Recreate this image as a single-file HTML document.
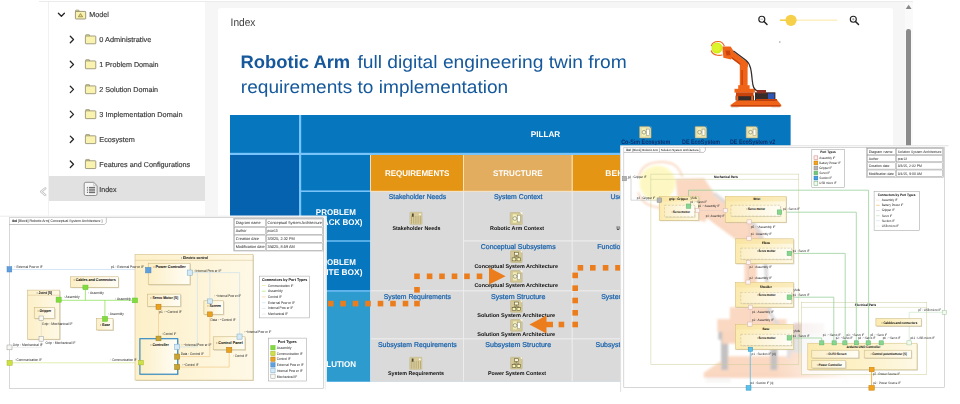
<!DOCTYPE html>
<html lang="en">
<head>
<meta charset="utf-8">
<title>Index - Robotic Arm</title>
<style>
html,body{margin:0;padding:0;background:#fff;}
body{width:960px;height:404px;overflow:hidden;font-family:"Liberation Sans", sans-serif;}
#app{position:relative;width:960px;height:404px;overflow:hidden;background:#fff;}
.topline{position:absolute;left:38.5px;top:1px;width:874.5px;height:0.9px;background:#ebebeb;}
.sidebar{position:absolute;left:48.2px;top:2px;width:156.8px;height:214px;background:#fff;border-left:1.2px solid #f1f1f1;box-sizing:border-box;}
.sidebar .sel{position:absolute;left:-0.6px;top:174.4px;width:156.2px;height:24.7px;background:#e1e1e1;}
.content{position:absolute;left:205px;top:2px;width:700px;height:402px;background:#f6f6f6;}
.card{position:absolute;left:13px;top:6px;width:674.5px;height:400px;background:#fff;border-radius:2.5px;}
.scroll{position:absolute;left:905px;top:2px;width:7.5px;height:402px;background:#fafafa;}
.scroll .up{position:absolute;left:0.8px;top:2.8px;width:0;height:0;border-left:2.9px solid transparent;border-right:2.9px solid transparent;border-bottom:4.1px solid #8a8a8a;}
.scroll .thumb{position:absolute;left:1.3px;top:26.9px;width:4.7px;height:180px;border-radius:2.4px;background:#8b8b8b;}
svg.art{position:absolute;left:0;top:0;width:960px;height:404px;font-family:"Liberation Sans", sans-serif;opacity:0.999;}
svg.art text{white-space:pre;text-rendering:geometricPrecision;}
</style>
</head>
<body>
<div id="app">
<div class="topline"></div>
<nav class="sidebar"><div class="sel"></div></nav>
<main class="content"><section class="card"></section></main>
<div class="scroll"><div class="thumb"></div></div>
<svg class="art" viewBox="0 0 960 404" width="960" height="404">
<defs>
<linearGradient id="gy" x1="0" y1="0" x2="1" y2="0"><stop offset="0" stop-color="#fceaae"/><stop offset="0.55" stop-color="#fdf2cc"/><stop offset="1" stop-color="#fef9e6"/></linearGradient>
<linearGradient id="gl" x1="0" y1="0" x2="1" y2="0"><stop offset="0" stop-color="#fdf0c8"/><stop offset="1" stop-color="#fef8e6"/></linearGradient>
<linearGradient id="gw" x1="0" y1="0" x2="1" y2="0"><stop offset="0" stop-color="#fcefc6"/><stop offset="1" stop-color="#fffdf6"/></linearGradient>
<linearGradient id="wf" gradientUnits="userSpaceOnUse" x1="775" y1="0" x2="850" y2="0"><stop offset="0" stop-color="#fff"/><stop offset="1" stop-color="#1a1a1a"/></linearGradient>
<mask id="wfade" maskUnits="userSpaceOnUse" x="620" y="145" width="340" height="260"><rect x="620" y="145" width="340" height="260" fill="url(#wf)"/></mask>
<filter id="wblur" x="-5%" y="-5%" width="110%" height="110%"><feGaussianBlur stdDeviation="1.1"/></filter>
<g id="arm">
<rect x="731.00" y="106.20" width="7.50" height="1.70" fill="#e9e3df"/>
<rect x="771.50" y="106.20" width="8.50" height="1.70" fill="#e9e3df"/>
<polygon points="737.60,100.00 777.20,100.00 781.30,105.00 781.30,106.50 730.50,106.50 730.50,105.00" fill="#f0641a" />
<rect x="731.50" y="105.00" width="48.80" height="1.50" fill="#c9430c"/>
<rect x="755.00" y="92.30" width="20.40" height="8.30" fill="#362c2a"/>
<rect x="757.00" y="90.00" width="9.00" height="3.40" fill="#8f2e22"/>
<rect x="768.00" y="93.40" width="6.40" height="6.60" fill="#2f55b5"/>
<rect x="756.00" y="99.00" width="21.00" height="1.80" fill="#c9430c"/>
<rect x="735.60" y="95.60" width="18.40" height="4.80" fill="#362c2a"/>
<rect x="736.20" y="95.60" width="2.00" height="4.80" fill="#f0641a"/>
<rect x="751.20" y="95.60" width="2.00" height="4.80" fill="#f0641a"/>
<rect x="734.50" y="88.80" width="20.40" height="3.80" fill="#f0641a"/>
<rect x="736.00" y="92.40" width="17.50" height="3.80" fill="#c9430c"/>
<rect x="738.20" y="85.20" width="11.40" height="4.00" fill="#f0641a"/>
<rect x="739.80" y="64.00" width="7.80" height="22.00" fill="#f0641a"/>
<rect x="741.40" y="70.00" width="1.40" height="15.00" fill="#c9430c"/>
<polygon points="731.90,50.40 746.50,61.40 742.60,66.80 728.00,55.70" fill="#f0641a" />
<polygon points="729.20,55.00 743.40,65.60 742.60,66.80 728.00,55.70" fill="#c9430c" />
<circle cx="744.20" cy="64.40" r="3.90" fill="#f0641a" />
<polygon points="722.20,46.60 730.60,46.40 733.80,51.20 731.00,59.60 723.40,57.80" fill="#f0641a" />
<polygon points="725.40,50.60 729.80,50.40 730.60,55.00 726.60,55.60" fill="#c9430c" />
<path d="M711.5 45.6 C 712.4 42.4, 715.4 41.4, 718.4 41.5 S 723.0 42.6, 724.2 45.8" fill="none" stroke="#f0641a" stroke-width="1.15" stroke-linecap="round"/>
<path d="M711.3 50.8 C 712.2 53.6, 714.6 54.9, 717.2 55.2 S 720.6 55.5, 722.0 55.0" fill="none" stroke="#f0641a" stroke-width="1.15" stroke-linecap="round"/>
<circle cx="717.00" cy="48.00" r="5.50" fill="#d4ee1c" />
<circle cx="716.60" cy="47.60" r="3.80" fill="#def52e" />
<path d="M733.5 51.0 L 745.6 60.0 C 751 64, 751.4 72, 752.2 80 S 754 88.5, 757 91" fill="none" stroke="#362c2a" stroke-width="1.25"/>
</g>
<g id="armw">
<rect x="731.00" y="106.20" width="7.50" height="1.70" fill="#e9e3df"/>
<rect x="771.50" y="106.20" width="8.50" height="1.70" fill="#e9e3df"/>
<polygon points="737.60,100.00 777.20,100.00 781.30,105.00 781.30,106.50 730.50,106.50 730.50,105.00" fill="#f08238" />
<rect x="731.50" y="105.00" width="48.80" height="1.50" fill="#ec7a32"/>
<rect x="755.00" y="92.30" width="20.40" height="8.30" fill="#8a8282"/>
<rect x="757.00" y="90.00" width="9.00" height="3.40" fill="#8f2e22"/>
<rect x="768.00" y="93.40" width="6.40" height="6.60" fill="#2f55b5"/>
<rect x="756.00" y="99.00" width="21.00" height="1.80" fill="#ec7a32"/>
<rect x="735.60" y="94.40" width="2.10" height="9.80" fill="#3a3434"/>
<rect x="750.10" y="94.40" width="2.10" height="9.80" fill="#3a3434"/>
<rect x="734.80" y="92.40" width="17.40" height="2.60" fill="#3a3434"/>
<rect x="734.50" y="88.80" width="20.40" height="3.80" fill="#f08238"/>
<rect x="736.00" y="92.40" width="17.50" height="3.80" fill="#ec7a32"/>
<rect x="738.20" y="85.20" width="11.40" height="4.00" fill="#f08238"/>
<rect x="742.50" y="64.00" width="3.60" height="22.00" fill="#f08238"/>
<polygon points="731.90,50.40 746.50,61.40 742.60,66.80 728.00,55.70" fill="#f08238" />
<polygon points="729.20,55.00 743.40,65.60 742.60,66.80 728.00,55.70" fill="#ec7a32" />
<circle cx="744.20" cy="64.40" r="3.90" fill="#f08238" />
<polygon points="722.20,46.60 730.60,46.40 733.80,51.20 731.00,59.60 723.40,57.80" fill="#f08238" />
<polygon points="725.40,50.60 729.80,50.40 730.60,55.00 726.60,55.60" fill="#ec7a32" />
<path d="M711.5 45.6 C 712.4 42.4, 715.4 41.4, 718.4 41.5 S 723.0 42.6, 724.2 45.8" fill="none" stroke="#f08238" stroke-width="0.55" stroke-linecap="round"/>
<path d="M711.3 50.8 C 712.2 53.6, 714.6 54.9, 717.2 55.2 S 720.6 55.5, 722.0 55.0" fill="none" stroke="#f08238" stroke-width="0.55" stroke-linecap="round"/>
<circle cx="716.90" cy="47.90" r="5.30" fill="#fbea3c" />
<path d="M733.5 51.0 L 744.6 59.6 C 748.6 62.6, 748.7 72, 749.2 80 S 750.6 88.5, 753 91" fill="none" stroke="#8a8282" stroke-width="1.0"/>
</g>
</defs>
<g id="tree">
<polyline points="58.40,13.30 61.40,16.30 64.40,13.30" fill="none" stroke="#262626" stroke-width="1.3" stroke-linecap="round" stroke-linejoin="round"/>
<rect x="75.60" y="10.10" width="3.40" height="2.00" fill="#f3eba0" stroke="#7d7960" stroke-width="0.6" rx="0.4"/>
<rect x="75.40" y="11.40" width="10.30" height="7.60" fill="#f9f2ae" stroke="#7d7960" stroke-width="0.75" rx="0.6"/>
<polygon points="80.50,13.60 82.60,16.80 78.40,16.80" fill="#f1de80" stroke="#6a6232" stroke-width="0.6" />
<text x="89.30" y="17.07" font-size="7.2" fill="#383838" textLength="19.50" lengthAdjust="spacingAndGlyphs" stroke="#383838" stroke-width="0.16">Model</text>
<polyline points="70.30,36.30 73.50,39.50 70.30,42.70" fill="none" stroke="#262626" stroke-width="1.3" stroke-linecap="round" stroke-linejoin="round"/>
<rect x="85.70" y="34.70" width="3.80" height="2.00" fill="#f3eba0" stroke="#7d7960" stroke-width="0.6" rx="0.4"/>
<rect x="85.40" y="36.00" width="10.40" height="7.80" fill="#faf3b0" stroke="#7d7960" stroke-width="0.7" rx="0.6"/>
<text x="99.30" y="42.02" font-size="7.2" fill="#383838" textLength="52.00" lengthAdjust="spacingAndGlyphs" stroke="#383838" stroke-width="0.16">0 Administrative</text>
<polyline points="70.30,61.25 73.50,64.45 70.30,67.65" fill="none" stroke="#262626" stroke-width="1.3" stroke-linecap="round" stroke-linejoin="round"/>
<rect x="85.70" y="59.65" width="3.80" height="2.00" fill="#f3eba0" stroke="#7d7960" stroke-width="0.6" rx="0.4"/>
<rect x="85.40" y="60.95" width="10.40" height="7.80" fill="#faf3b0" stroke="#7d7960" stroke-width="0.7" rx="0.6"/>
<text x="99.30" y="66.97" font-size="7.2" fill="#383838" textLength="59.30" lengthAdjust="spacingAndGlyphs" stroke="#383838" stroke-width="0.16">1 Problem Domain</text>
<polyline points="70.30,86.20 73.50,89.40 70.30,92.60" fill="none" stroke="#262626" stroke-width="1.3" stroke-linecap="round" stroke-linejoin="round"/>
<rect x="85.70" y="84.60" width="3.80" height="2.00" fill="#f3eba0" stroke="#7d7960" stroke-width="0.6" rx="0.4"/>
<rect x="85.40" y="85.90" width="10.40" height="7.80" fill="#faf3b0" stroke="#7d7960" stroke-width="0.7" rx="0.6"/>
<text x="99.30" y="91.92" font-size="7.2" fill="#383838" textLength="58.80" lengthAdjust="spacingAndGlyphs" stroke="#383838" stroke-width="0.16">2 Solution Domain</text>
<polyline points="70.30,111.15 73.50,114.35 70.30,117.55" fill="none" stroke="#262626" stroke-width="1.3" stroke-linecap="round" stroke-linejoin="round"/>
<rect x="85.70" y="109.55" width="3.80" height="2.00" fill="#f3eba0" stroke="#7d7960" stroke-width="0.6" rx="0.4"/>
<rect x="85.40" y="110.85" width="10.40" height="7.80" fill="#faf3b0" stroke="#7d7960" stroke-width="0.7" rx="0.6"/>
<text x="99.30" y="116.87" font-size="7.2" fill="#383838" textLength="83.20" lengthAdjust="spacingAndGlyphs" stroke="#383838" stroke-width="0.16">3 Implementation Domain</text>
<polyline points="70.30,136.10 73.50,139.30 70.30,142.50" fill="none" stroke="#262626" stroke-width="1.3" stroke-linecap="round" stroke-linejoin="round"/>
<rect x="85.70" y="134.50" width="3.80" height="2.00" fill="#f3eba0" stroke="#7d7960" stroke-width="0.6" rx="0.4"/>
<rect x="85.40" y="135.80" width="10.40" height="7.80" fill="#faf3b0" stroke="#7d7960" stroke-width="0.7" rx="0.6"/>
<text x="99.30" y="141.82" font-size="7.2" fill="#383838" textLength="35.60" lengthAdjust="spacingAndGlyphs" stroke="#383838" stroke-width="0.16">Ecosystem</text>
<polyline points="70.30,161.05 73.50,164.25 70.30,167.45" fill="none" stroke="#262626" stroke-width="1.3" stroke-linecap="round" stroke-linejoin="round"/>
<rect x="85.70" y="159.45" width="3.80" height="2.00" fill="#f3eba0" stroke="#7d7960" stroke-width="0.6" rx="0.4"/>
<rect x="85.40" y="160.75" width="10.40" height="7.80" fill="#faf3b0" stroke="#7d7960" stroke-width="0.7" rx="0.6"/>
<text x="99.30" y="166.77" font-size="7.2" fill="#383838" textLength="90.80" lengthAdjust="spacingAndGlyphs" stroke="#383838" stroke-width="0.16">Features and Configurations</text>
<path d="M85.80 182.30 H93.70 L97.10 185.70 V193.90 Q97.10 195.50 95.50 195.50 H85.80 Q84.20 195.50 84.20 193.90 V183.90 Q84.20 182.30 85.80 182.30 Z" fill="#f6f6f6" stroke="#7d7d7d" stroke-width="0.85"/>
<polyline points="93.70,182.50 93.70,185.70 96.90,185.70" fill="none" stroke="#9a9a9a" stroke-width="0.5" />
<rect x="86.90" y="186.90" width="1.00" height="1.00" fill="#6a6a6a"/>
<rect x="88.90" y="186.90" width="6.20" height="1.15" fill="#6e6e6e"/>
<rect x="86.90" y="188.60" width="1.00" height="1.00" fill="#6a6a6a"/>
<rect x="88.90" y="188.60" width="6.20" height="1.15" fill="#6e6e6e"/>
<rect x="86.90" y="190.30" width="1.00" height="1.00" fill="#6a6a6a"/>
<rect x="88.90" y="190.30" width="6.20" height="1.15" fill="#6e6e6e"/>
<rect x="86.90" y="192.00" width="1.00" height="1.00" fill="#6a6a6a"/>
<rect x="88.90" y="192.00" width="6.20" height="1.15" fill="#6e6e6e"/>
<text x="99.30" y="191.52" font-size="7.2" fill="#383838" textLength="17.30" lengthAdjust="spacingAndGlyphs" stroke="#383838" stroke-width="0.16">Index</text>
<polyline points="45.30,188.30 41.20,191.70 45.30,195.10" fill="none" stroke="#c2c2c2" stroke-width="2.3" stroke-linecap="round" stroke-linejoin="round"/>
<polyline points="45.30,188.30 41.20,191.70 45.30,195.10" fill="none" stroke="#ffffff" stroke-width="0.9" stroke-linecap="round" stroke-linejoin="round"/>
</g>
<g id="card-head">
<text x="230.60" y="25.85" font-size="11" fill="#3c3c3c" textLength="24.80" lengthAdjust="spacingAndGlyphs">Index</text>
<circle cx="761.80" cy="19.20" r="3.00" fill="#fff" stroke="#222" stroke-width="1.15" />
<polyline points="764.00,21.40 767.00,24.40" fill="none" stroke="#222" stroke-width="1.45" stroke-linecap="round"/>
<polyline points="760.50,19.20 763.10,19.20" fill="none" stroke="#666" stroke-width="0.5" />
<circle cx="853.30" cy="19.20" r="3.00" fill="#fff" stroke="#222" stroke-width="1.15" />
<polyline points="855.50,21.40 858.50,24.40" fill="none" stroke="#222" stroke-width="1.45" stroke-linecap="round"/>
<polyline points="852.00,19.20 854.60,19.20" fill="none" stroke="#666" stroke-width="0.5" />
<polyline points="853.30,17.90 853.30,20.50" fill="none" stroke="#666" stroke-width="0.5" />
<rect x="779.70" y="19.45" width="57.90" height="1.50" fill="#fdf0c2" rx="0.7"/>
<rect x="779.70" y="19.45" width="11.30" height="1.50" fill="#f6d049" rx="0.7"/>
<circle cx="791.00" cy="20.30" r="5.60" fill="#f6d049" />
<circle cx="779.80" cy="42.00" r="0.75" fill="#8a93a0" />
<polygon points="905.70,8.90 908.65,4.70 911.60,8.90" fill="#888888" />
<text x="240.60" y="67.60" font-size="18" fill="#15589b" font-weight="700" textLength="109.60" lengthAdjust="spacingAndGlyphs">Robotic Arm</text>
<text x="357.40" y="67.60" font-size="18" fill="#15589b" textLength="269.40" lengthAdjust="spacingAndGlyphs">full digital engineering twin from</text>
<text x="240.80" y="93.10" font-size="18" fill="#15589b" textLength="267.40" lengthAdjust="spacingAndGlyphs">requirements to implementation</text>
</g>
<use href="#arm"/>
<g id="pillar-table">
<rect x="230.00" y="115.00" width="560.50" height="266.60" fill="#78c4fa"/>
<rect x="230.00" y="115.00" width="69.00" height="37.80" fill="#0676be"/>
<rect x="301.20" y="115.00" width="489.30" height="37.80" fill="#0676be"/>
<rect x="230.00" y="155.00" width="69.00" height="226.60" fill="#0462ae"/>
<rect x="301.20" y="155.00" width="69.10" height="35.40" fill="#0676be"/>
<rect x="301.20" y="192.00" width="69.10" height="48.30" fill="#0676be"/>
<rect x="301.20" y="241.70" width="69.10" height="48.50" fill="#0676be"/>
<rect x="301.20" y="291.60" width="69.10" height="90.00" fill="#2e9bcf"/>
<rect x="370.30" y="155.00" width="319.70" height="226.60" fill="#ececec"/>
<rect x="370.30" y="155.00" width="319.70" height="36.80" fill="#fbe3b8"/>
<rect x="371.00" y="155.00" width="92.00" height="35.80" fill="#e49514"/>
<rect x="464.00" y="155.00" width="107.60" height="35.80" fill="#e2ad5e"/>
<rect x="572.80" y="155.00" width="117.20" height="35.80" fill="#e49514"/>
<rect x="371.00" y="191.80" width="92.00" height="98.40" fill="#dadada"/>
<rect x="371.00" y="291.40" width="92.00" height="46.80" fill="#dadada"/>
<rect x="371.00" y="339.40" width="92.00" height="42.20" fill="#dadada"/>
<rect x="464.00" y="191.80" width="107.60" height="48.50" fill="#dadada"/>
<rect x="464.00" y="241.50" width="107.60" height="48.70" fill="#dadada"/>
<rect x="464.00" y="291.40" width="107.60" height="46.80" fill="#dadada"/>
<rect x="464.00" y="339.40" width="107.60" height="42.20" fill="#dadada"/>
<rect x="572.80" y="191.80" width="117.20" height="48.50" fill="#dadada"/>
<rect x="572.80" y="241.50" width="117.20" height="48.70" fill="#dadada"/>
<rect x="572.80" y="291.40" width="117.20" height="46.80" fill="#dadada"/>
<rect x="572.80" y="339.40" width="117.20" height="42.20" fill="#dadada"/>
<text x="545.50" y="137.17" font-size="8.2" fill="#ffffff" font-weight="700" text-anchor="middle" textLength="29.50" lengthAdjust="spacingAndGlyphs">PILLAR</text>
<text x="417.20" y="175.67" font-size="8.2" fill="#ffffff" font-weight="700" text-anchor="middle" textLength="64.50" lengthAdjust="spacingAndGlyphs">REQUIREMENTS</text>
<text x="517.80" y="175.67" font-size="8.2" fill="#ffffff" font-weight="700" text-anchor="middle" textLength="49.50" lengthAdjust="spacingAndGlyphs">STRUCTURE</text>
<text x="627.50" y="175.67" font-size="8.2" fill="#ffffff" font-weight="700" text-anchor="middle" textLength="44.50" lengthAdjust="spacingAndGlyphs">BEHAVIOR</text>
<text x="335.80" y="214.84" font-size="8.4" fill="#ffffff" font-weight="700" text-anchor="middle" textLength="40.00" lengthAdjust="spacingAndGlyphs">PROBLEM</text>
<text x="336.00" y="224.84" font-size="8.4" fill="#ffffff" font-weight="700" text-anchor="middle" textLength="53.00" lengthAdjust="spacingAndGlyphs">(BLACK BOX)</text>
<text x="335.80" y="264.54" font-size="8.4" fill="#ffffff" font-weight="700" text-anchor="middle" textLength="40.00" lengthAdjust="spacingAndGlyphs">PROBLEM</text>
<text x="336.00" y="274.54" font-size="8.4" fill="#ffffff" font-weight="700" text-anchor="middle" textLength="53.00" lengthAdjust="spacingAndGlyphs">(WHITE BOX)</text>
<text x="335.40" y="366.64" font-size="8.4" fill="#ffffff" font-weight="700" text-anchor="middle" textLength="41.30" lengthAdjust="spacingAndGlyphs">SOLUTION</text>
<rect x="639.50" y="126.40" width="11.60" height="11.60" fill="#e6dfac" stroke="#a89f70" stroke-width="0.5" rx="0.6"/>
<rect x="642.01" y="128.14" width="3.67" height="8.12" fill="#f3f0b6"/>
<rect x="646.46" y="129.11" width="2.90" height="6.38" fill="#fefef8" stroke="#8f8b70" stroke-width="0.45"/>
<circle cx="643.95" cy="132.20" r="1.84" fill="#f8f6d0" stroke="#77776a" stroke-width="0.6" />
<polyline points="645.69,132.20 646.65,132.20" fill="none" stroke="#8a8a80" stroke-width="0.5" />
<polygon points="648.78,126.10 651.40,126.10 651.40,128.72" fill="#2f8ccc" />
<rect x="695.10" y="126.40" width="11.60" height="11.60" fill="#e6dfac" stroke="#a89f70" stroke-width="0.5" rx="0.6"/>
<rect x="697.61" y="128.14" width="3.67" height="8.12" fill="#f3f0b6"/>
<rect x="702.06" y="129.11" width="2.90" height="6.38" fill="#fefef8" stroke="#8f8b70" stroke-width="0.45"/>
<circle cx="699.55" cy="132.20" r="1.84" fill="#f8f6d0" stroke="#77776a" stroke-width="0.6" />
<polyline points="701.29,132.20 702.25,132.20" fill="none" stroke="#8a8a80" stroke-width="0.5" />
<polygon points="704.38,126.10 707.00,126.10 707.00,128.72" fill="#2f8ccc" />
<rect x="746.10" y="126.40" width="11.60" height="11.60" fill="#e6dfac" stroke="#a89f70" stroke-width="0.5" rx="0.6"/>
<rect x="748.61" y="128.14" width="3.67" height="8.12" fill="#f3f0b6"/>
<rect x="753.06" y="129.11" width="2.90" height="6.38" fill="#fefef8" stroke="#8f8b70" stroke-width="0.45"/>
<circle cx="750.55" cy="132.20" r="1.84" fill="#f8f6d0" stroke="#77776a" stroke-width="0.6" />
<polyline points="752.29,132.20 753.25,132.20" fill="none" stroke="#8a8a80" stroke-width="0.5" />
<polygon points="755.38,126.10 758.00,126.10 758.00,128.72" fill="#2f8ccc" />
<text x="621.20" y="143.84" font-size="6.4" fill="#0b2f6e" font-weight="700" textLength="49.00" lengthAdjust="spacingAndGlyphs">Co-Sim Ecosystem</text>
<text x="682.00" y="143.84" font-size="6.4" fill="#0b2f6e" font-weight="700" textLength="38.00" lengthAdjust="spacingAndGlyphs">DE EcoSystem</text>
<text x="730.00" y="143.84" font-size="6.4" fill="#0b2f6e" font-weight="700" textLength="45.20" lengthAdjust="spacingAndGlyphs">DE EcoSystem v2</text>
<text x="417.50" y="199.45" font-size="7.0" fill="#1560ab" text-anchor="middle" textLength="57.50" lengthAdjust="spacingAndGlyphs" stroke="#1560ab" stroke-width="0.22">Stakeholder Needs</text>
<text x="518.20" y="199.45" font-size="7.0" fill="#1560ab" text-anchor="middle" textLength="48.50" lengthAdjust="spacingAndGlyphs" stroke="#1560ab" stroke-width="0.22">System Context</text>
<text x="627.50" y="199.45" font-size="7.0" fill="#1560ab" text-anchor="middle" textLength="34.00" lengthAdjust="spacingAndGlyphs" stroke="#1560ab" stroke-width="0.22">Use Cases</text>
<text x="518.20" y="249.25" font-size="7.0" fill="#1560ab" text-anchor="middle" textLength="74.80" lengthAdjust="spacingAndGlyphs" stroke="#1560ab" stroke-width="0.22">Conceptual Subsystems</text>
<text x="627.50" y="249.25" font-size="7.0" fill="#1560ab" text-anchor="middle" textLength="60.50" lengthAdjust="spacingAndGlyphs" stroke="#1560ab" stroke-width="0.22">Functional Analysis</text>
<text x="417.30" y="299.25" font-size="7.0" fill="#1560ab" text-anchor="middle" textLength="67.00" lengthAdjust="spacingAndGlyphs" stroke="#1560ab" stroke-width="0.22">System Requirements</text>
<text x="518.20" y="299.25" font-size="7.0" fill="#1560ab" text-anchor="middle" textLength="54.50" lengthAdjust="spacingAndGlyphs" stroke="#1560ab" stroke-width="0.22">System Structure</text>
<text x="627.50" y="299.25" font-size="7.0" fill="#1560ab" text-anchor="middle" textLength="52.60" lengthAdjust="spacingAndGlyphs" stroke="#1560ab" stroke-width="0.22">System Behavior</text>
<text x="417.40" y="347.25" font-size="7.0" fill="#1560ab" text-anchor="middle" textLength="78.80" lengthAdjust="spacingAndGlyphs" stroke="#1560ab" stroke-width="0.22">Subsystem Requirements</text>
<text x="518.20" y="347.25" font-size="7.0" fill="#1560ab" text-anchor="middle" textLength="66.00" lengthAdjust="spacingAndGlyphs" stroke="#1560ab" stroke-width="0.22">Subsystem Structure</text>
<text x="627.50" y="347.25" font-size="7.0" fill="#1560ab" text-anchor="middle" textLength="64.00" lengthAdjust="spacingAndGlyphs" stroke="#1560ab" stroke-width="0.22">Subsystem Behavior</text>
<rect x="410.00" y="212.30" width="12.00" height="12.00" fill="#e1d5a6" stroke="#b5a877" stroke-width="0.5" rx="0.6"/>
<rect x="410.50" y="212.80" width="11.00" height="2.90" fill="#d8ca96"/>
<rect x="411.00" y="215.90" width="0.85" height="7.80" fill="#b4a46f"/>
<rect x="412.86" y="215.90" width="0.85" height="7.80" fill="#b4a46f"/>
<rect x="414.72" y="215.90" width="0.85" height="7.80" fill="#b4a46f"/>
<rect x="416.58" y="215.90" width="0.85" height="7.80" fill="#b4a46f"/>
<rect x="418.44" y="215.90" width="0.85" height="7.80" fill="#b4a46f"/>
<rect x="420.30" y="215.90" width="0.85" height="7.80" fill="#b4a46f"/>
<rect x="411.90" y="213.50" width="1.80" height="3.20" fill="#4f4a38"/>
<circle cx="420.00" cy="214.30" r="0.90" fill="#ffffff" />
<text x="416.40" y="230.09" font-size="5.4" fill="#111" font-weight="700" text-anchor="middle" textLength="48.00" lengthAdjust="spacingAndGlyphs">Stakeholder Needs</text>
<rect x="510.20" y="212.50" width="12.00" height="12.00" fill="#d3c895" stroke="#b9ad7c" stroke-width="0.5" rx="0.6"/>
<rect x="512.80" y="214.30" width="3.80" height="8.40" fill="#f3f0b6"/>
<rect x="517.40" y="215.30" width="3.00" height="6.60" fill="#fefef8" stroke="#8f8b70" stroke-width="0.45"/>
<circle cx="514.80" cy="218.50" r="1.90" fill="#f8f6d0" stroke="#77776a" stroke-width="0.6" />
<polyline points="516.60,218.50 517.60,218.50" fill="none" stroke="#8a8a80" stroke-width="0.5" />
<polygon points="519.80,212.20 522.50,212.20 522.50,214.90" fill="#ffffff" />
<text x="517.00" y="230.09" font-size="5.4" fill="#111" font-weight="700" text-anchor="middle" textLength="54.00" lengthAdjust="spacingAndGlyphs">Robotic Arm Context</text>
<rect x="510.60" y="250.80" width="11.60" height="11.60" fill="#d3c895" stroke="#b9ad7c" stroke-width="0.5" rx="0.6"/>
<rect x="514.47" y="252.25" width="3.87" height="2.90" fill="#fbf9dc" stroke="#5f5936" stroke-width="0.6"/>
<rect x="512.15" y="257.86" width="3.67" height="3.00" fill="#f7f3b4" stroke="#5f5936" stroke-width="0.6"/>
<rect x="516.98" y="257.86" width="3.67" height="3.00" fill="#f7f3b4" stroke="#5f5936" stroke-width="0.6"/>
<polyline points="516.40,255.05 516.40,256.60" fill="none" stroke="#5f5936" stroke-width="0.45" />
<polyline points="514.08,257.95 514.08,256.60 518.72,256.60 518.72,257.95" fill="none" stroke="#5f5936" stroke-width="0.45" />
<polygon points="520.07,250.80 522.20,250.80 522.20,252.93" fill="#ffffff" />
<text x="516.20" y="267.99" font-size="5.4" fill="#111" font-weight="700" text-anchor="middle" textLength="83.50" lengthAdjust="spacingAndGlyphs">Conceptual System Architecture</text>
<rect x="510.60" y="270.60" width="11.60" height="11.60" fill="#d3c895" stroke="#b9ad7c" stroke-width="0.5" rx="0.6"/>
<rect x="513.11" y="272.34" width="3.67" height="8.12" fill="#f3f0b6"/>
<rect x="517.56" y="273.31" width="2.90" height="6.38" fill="#fefef8" stroke="#8f8b70" stroke-width="0.45"/>
<circle cx="515.05" cy="276.40" r="1.84" fill="#f8f6d0" stroke="#77776a" stroke-width="0.6" />
<polyline points="516.79,276.40 517.75,276.40" fill="none" stroke="#8a8a80" stroke-width="0.5" />
<polygon points="519.88,270.30 522.50,270.30 522.50,272.92" fill="#ffffff" />
<text x="516.20" y="287.09" font-size="5.4" fill="#111" font-weight="700" text-anchor="middle" textLength="83.50" lengthAdjust="spacingAndGlyphs">Conceptual System Architecture</text>
<rect x="510.60" y="300.60" width="11.60" height="11.60" fill="#d3c895" stroke="#b9ad7c" stroke-width="0.5" rx="0.6"/>
<rect x="514.47" y="302.05" width="3.87" height="2.90" fill="#fbf9dc" stroke="#5f5936" stroke-width="0.6"/>
<rect x="512.15" y="307.66" width="3.67" height="3.00" fill="#f7f3b4" stroke="#5f5936" stroke-width="0.6"/>
<rect x="516.98" y="307.66" width="3.67" height="3.00" fill="#f7f3b4" stroke="#5f5936" stroke-width="0.6"/>
<polyline points="516.40,304.85 516.40,306.40" fill="none" stroke="#5f5936" stroke-width="0.45" />
<polyline points="514.08,307.75 514.08,306.40 518.72,306.40 518.72,307.75" fill="none" stroke="#5f5936" stroke-width="0.45" />
<polygon points="520.07,300.60 522.20,300.60 522.20,302.73" fill="#ffffff" />
<text x="516.20" y="317.39" font-size="5.4" fill="#111" font-weight="700" text-anchor="middle" textLength="78.00" lengthAdjust="spacingAndGlyphs">Solution System Architecture</text>
<rect x="510.60" y="319.60" width="11.60" height="11.60" fill="#d3c895" stroke="#b9ad7c" stroke-width="0.5" rx="0.6"/>
<rect x="513.11" y="321.34" width="3.67" height="8.12" fill="#f3f0b6"/>
<rect x="517.56" y="322.31" width="2.90" height="6.38" fill="#fefef8" stroke="#8f8b70" stroke-width="0.45"/>
<circle cx="515.05" cy="325.40" r="1.84" fill="#f8f6d0" stroke="#77776a" stroke-width="0.6" />
<polyline points="516.79,325.40 517.75,325.40" fill="none" stroke="#8a8a80" stroke-width="0.5" />
<polygon points="519.88,319.30 522.50,319.30 522.50,321.92" fill="#ffffff" />
<text x="516.20" y="336.49" font-size="5.4" fill="#111" font-weight="700" text-anchor="middle" textLength="78.00" lengthAdjust="spacingAndGlyphs">Solution System Architecture</text>
<rect x="409.80" y="357.30" width="12.00" height="12.00" fill="#e1d5a6" stroke="#b5a877" stroke-width="0.5" rx="0.6"/>
<rect x="410.30" y="357.80" width="11.00" height="2.90" fill="#d8ca96"/>
<rect x="410.80" y="360.90" width="0.85" height="7.80" fill="#b4a46f"/>
<rect x="412.66" y="360.90" width="0.85" height="7.80" fill="#b4a46f"/>
<rect x="414.52" y="360.90" width="0.85" height="7.80" fill="#b4a46f"/>
<rect x="416.38" y="360.90" width="0.85" height="7.80" fill="#b4a46f"/>
<rect x="418.24" y="360.90" width="0.85" height="7.80" fill="#b4a46f"/>
<rect x="420.10" y="360.90" width="0.85" height="7.80" fill="#b4a46f"/>
<rect x="411.70" y="358.50" width="1.80" height="3.20" fill="#4f4a38"/>
<circle cx="419.80" cy="359.30" r="0.90" fill="#ffffff" />
<text x="416.00" y="374.99" font-size="5.4" fill="#111" font-weight="700" text-anchor="middle" textLength="56.00" lengthAdjust="spacingAndGlyphs">System Requirements</text>
<rect x="510.60" y="357.30" width="11.60" height="11.60" fill="#d3c895" stroke="#b9ad7c" stroke-width="0.5" rx="0.6"/>
<rect x="514.47" y="358.75" width="3.87" height="2.90" fill="#fbf9dc" stroke="#5f5936" stroke-width="0.6"/>
<rect x="512.15" y="364.36" width="3.67" height="3.00" fill="#f7f3b4" stroke="#5f5936" stroke-width="0.6"/>
<rect x="516.98" y="364.36" width="3.67" height="3.00" fill="#f7f3b4" stroke="#5f5936" stroke-width="0.6"/>
<polyline points="516.40,361.55 516.40,363.10" fill="none" stroke="#5f5936" stroke-width="0.45" />
<polyline points="514.08,364.45 514.08,363.10 518.72,363.10 518.72,364.45" fill="none" stroke="#5f5936" stroke-width="0.45" />
<polygon points="520.07,357.30 522.20,357.30 522.20,359.43" fill="#ffffff" />
<text x="517.00" y="374.99" font-size="5.4" fill="#111" font-weight="700" text-anchor="middle" textLength="58.00" lengthAdjust="spacingAndGlyphs">Power System Context</text>
<rect x="620.50" y="212.50" width="12.00" height="12.00" fill="#d3c895" stroke="#b9ad7c" stroke-width="0.5" rx="0.6"/>
<rect x="623.10" y="214.30" width="3.80" height="8.40" fill="#f3f0b6"/>
<rect x="627.70" y="215.30" width="3.00" height="6.60" fill="#fefef8" stroke="#8f8b70" stroke-width="0.45"/>
<circle cx="625.10" cy="218.50" r="1.90" fill="#f8f6d0" stroke="#77776a" stroke-width="0.6" />
<polyline points="626.90,218.50 627.90,218.50" fill="none" stroke="#8a8a80" stroke-width="0.5" />
<polygon points="630.10,212.20 632.80,212.20 632.80,214.90" fill="#ffffff" />
<text x="627.60" y="230.09" font-size="5.4" fill="#111" font-weight="700" text-anchor="middle" textLength="22.00" lengthAdjust="spacingAndGlyphs">Use Cases</text>
<rect x="328.00" y="300.80" width="5.60" height="5.60" fill="#ec7d1c"/>
<rect x="340.30" y="300.80" width="5.60" height="5.60" fill="#ec7d1c"/>
<rect x="352.70" y="300.80" width="5.60" height="5.60" fill="#ec7d1c"/>
<rect x="365.20" y="300.80" width="5.60" height="5.60" fill="#ec7d1c"/>
<rect x="377.70" y="300.80" width="5.60" height="5.60" fill="#ec7d1c"/>
<rect x="390.20" y="300.80" width="5.60" height="5.60" fill="#ec7d1c"/>
<rect x="402.70" y="300.80" width="5.60" height="5.60" fill="#ec7d1c"/>
<rect x="414.20" y="273.50" width="5.60" height="5.60" fill="#ec7d1c"/>
<rect x="414.20" y="287.00" width="5.60" height="5.60" fill="#ec7d1c"/>
<rect x="414.20" y="300.80" width="5.60" height="5.60" fill="#ec7d1c"/>
<rect x="426.80" y="273.50" width="5.60" height="5.60" fill="#ec7d1c"/>
<rect x="439.20" y="273.50" width="5.60" height="5.60" fill="#ec7d1c"/>
<rect x="451.70" y="273.50" width="5.60" height="5.60" fill="#ec7d1c"/>
<rect x="464.20" y="273.50" width="5.60" height="5.60" fill="#ec7d1c"/>
<rect x="476.70" y="273.50" width="5.60" height="5.60" fill="#ec7d1c"/>
<polygon points="489.00,267.60 505.60,276.20 489.00,284.60" fill="#ec7d1c" />
<rect x="577.60" y="265.00" width="5.60" height="5.60" fill="#ec7d1c"/>
<rect x="590.00" y="265.00" width="5.60" height="5.60" fill="#ec7d1c"/>
<rect x="602.80" y="265.00" width="5.60" height="5.60" fill="#ec7d1c"/>
<rect x="615.20" y="265.00" width="5.60" height="5.60" fill="#ec7d1c"/>
<rect x="627.60" y="265.00" width="5.60" height="5.60" fill="#ec7d1c"/>
<rect x="572.40" y="272.60" width="5.60" height="5.60" fill="#ec7d1c"/>
<rect x="572.40" y="285.40" width="5.60" height="5.60" fill="#ec7d1c"/>
<rect x="572.40" y="297.70" width="5.60" height="5.60" fill="#ec7d1c"/>
<rect x="572.40" y="310.00" width="5.60" height="5.60" fill="#ec7d1c"/>
<rect x="572.40" y="321.70" width="5.60" height="5.60" fill="#ec7d1c"/>
<rect x="558.60" y="321.70" width="5.60" height="5.60" fill="#ec7d1c"/>
<polygon points="529.40,324.50 546.50,315.60 546.50,321.70 553.00,321.70 553.00,327.30 546.50,327.30 546.50,333.40" fill="#ec7d1c" />
</g>
<g id="diagram-left">
<rect x="0.00" y="215.60" width="326.80" height="188.40" fill="#ffffff"/>
<polyline points="0.00,216.20 325.20,216.20 325.20,389.60" fill="none" stroke="#dedede" stroke-width="0.6" />
<rect x="9.30" y="217.70" width="314.10" height="170.70" fill="none" stroke="#bcbcbc" stroke-width="0.6"/>
<polyline points="9.30,224.50 104.40,224.50 106.30,222.60 106.30,217.70" fill="none" stroke="#8a8a8a" stroke-width="0.5" />
<text x="11.80" y="222.36" font-size="3.6" fill="#111" font-weight="700" textLength="5.20" lengthAdjust="spacingAndGlyphs">ibd</text>
<text x="18.00" y="222.36" font-size="3.6" fill="#222" textLength="84.40" lengthAdjust="spacingAndGlyphs">[Block] Robotic Arm[ Conceptual System Architecture ]</text>
<rect x="233.80" y="218.20" width="89.80" height="32.80" fill="#ffffff" stroke="#9a9a9a" stroke-width="0.5"/>
<rect x="234.70" y="219.00" width="30.80" height="7.50" fill="#fff" stroke="#8c8c8c" stroke-width="0.45"/>
<rect x="266.70" y="219.00" width="55.90" height="7.50" fill="#fff" stroke="#8c8c8c" stroke-width="0.45"/>
<text x="235.70" y="224.25" font-size="4.0" fill="#222" textLength="24.80" lengthAdjust="spacingAndGlyphs">Diagram name</text>
<text x="267.60" y="224.25" font-size="4.0" fill="#222" textLength="54.40" lengthAdjust="spacingAndGlyphs">Conceptual System Architecture</text>
<rect x="234.70" y="227.30" width="30.80" height="7.10" fill="#fff" stroke="#8c8c8c" stroke-width="0.45"/>
<rect x="266.70" y="227.30" width="55.90" height="7.10" fill="#fff" stroke="#8c8c8c" stroke-width="0.45"/>
<text x="235.70" y="232.35" font-size="4.0" fill="#222" textLength="10.80" lengthAdjust="spacingAndGlyphs">Author</text>
<text x="267.60" y="232.35" font-size="4.0" fill="#222" textLength="10.00" lengthAdjust="spacingAndGlyphs">pcar13</text>
<rect x="234.70" y="235.10" width="30.80" height="7.40" fill="#fff" stroke="#8c8c8c" stroke-width="0.45"/>
<rect x="266.70" y="235.10" width="55.90" height="7.40" fill="#fff" stroke="#8c8c8c" stroke-width="0.45"/>
<text x="235.70" y="240.30" font-size="4.0" fill="#222" textLength="23.10" lengthAdjust="spacingAndGlyphs">Creation date</text>
<text x="267.60" y="240.30" font-size="4.0" fill="#222" textLength="27.20" lengthAdjust="spacingAndGlyphs">3/3/25, 2:32 PM</text>
<rect x="234.70" y="243.10" width="30.80" height="7.20" fill="#fff" stroke="#8c8c8c" stroke-width="0.45"/>
<rect x="266.70" y="243.10" width="55.90" height="7.20" fill="#fff" stroke="#8c8c8c" stroke-width="0.45"/>
<text x="235.70" y="248.20" font-size="4.0" fill="#222" textLength="28.90" lengthAdjust="spacingAndGlyphs">Modification date</text>
<text x="267.60" y="248.20" font-size="4.0" fill="#222" textLength="27.20" lengthAdjust="spacingAndGlyphs">3/4/25, 8:59 AM</text>
<polyline points="11.70,269.50 145.60,269.50" fill="none" stroke="#c3dbf2" stroke-width="0.7" />
<polyline points="12.20,362.80 138.80,362.80" fill="none" stroke="#d6e78f" stroke-width="0.7" />
<rect x="135.90" y="255.20" width="118.00" height="125.80" fill="#cfc8b4" opacity="0.75"/>
<rect x="135.00" y="254.30" width="118.00" height="125.80" fill="url(#gl)" stroke="#c9b47c" stroke-width="0.5"/>
<polyline points="135.00,260.30 253.00,260.30" fill="none" stroke="#c9b47c" stroke-width="0.4" />
<text x="194.50" y="258.87" font-size="3.9" fill="#000" font-weight="700" text-anchor="middle" textLength="27.00" lengthAdjust="spacingAndGlyphs">: Electric control</text>
<polyline points="192.40,272.60 239.60,272.60 239.60,334.00" fill="none" stroke="#c6deef" stroke-width="0.6" />
<polyline points="209.80,272.70 209.80,298.90" fill="none" stroke="#c6deef" stroke-width="0.6" />
<polyline points="197.40,272.60 197.40,346.90 179.70,346.90" fill="none" stroke="#c6deef" stroke-width="0.6" />
<polyline points="158.50,309.40 158.50,336.10" fill="none" stroke="#f2ca88" stroke-width="0.7" />
<polyline points="209.80,316.70 209.80,356.60 179.70,356.60" fill="none" stroke="#f2ca88" stroke-width="0.7" />
<polyline points="229.20,352.40 229.20,367.10 179.70,367.10" fill="none" stroke="#f2ca88" stroke-width="0.7" />
<polyline points="85.40,289.60 85.40,300.30" fill="none" stroke="#92e25e" stroke-width="0.8" />
<polyline points="61.20,300.30 132.40,300.30" fill="none" stroke="#92e25e" stroke-width="0.8" />
<polyline points="104.90,300.30 104.90,316.40" fill="none" stroke="#92e25e" stroke-width="0.8" />
<polyline points="41.30,341.20 41.30,347.40 12.00,347.40" fill="none" stroke="#dcdcdc" stroke-width="0.5" />
<rect x="149.10" y="264.10" width="41.80" height="21.40" fill="#cfc8b4" opacity="0.75"/>
<rect x="148.20" y="263.20" width="41.80" height="21.40" fill="url(#gw)" stroke="#c2ad72" stroke-width="0.5"/>
<text x="153.30" y="268.26" font-size="3.9" fill="#000" font-weight="700" textLength="32.30" lengthAdjust="spacingAndGlyphs">: Power Controller</text>
<rect x="148.20" y="295.00" width="33.40" height="12.20" fill="#cfc8b4" opacity="0.75"/>
<rect x="147.30" y="294.10" width="33.40" height="12.20" fill="url(#gw)" stroke="#c2ad72" stroke-width="0.5"/>
<text x="150.30" y="299.17" font-size="3.9" fill="#000" font-weight="700" textLength="27.80" lengthAdjust="spacingAndGlyphs">: Servo Motor [5]</text>
<rect x="140.80" y="339.60" width="37.80" height="35.50" fill="#cfc8b4" opacity="0.75"/>
<rect x="139.90" y="338.70" width="37.80" height="35.50" fill="url(#gw)" stroke="#2f88c4" stroke-width="1.15"/>
<text x="150.30" y="345.97" font-size="3.9" fill="#000" font-weight="700" textLength="18.50" lengthAdjust="spacingAndGlyphs">: Controller</text>
<rect x="204.80" y="301.70" width="19.50" height="13.60" fill="#cfc8b4" opacity="0.75"/>
<rect x="203.90" y="300.80" width="19.50" height="13.60" fill="url(#gw)" stroke="#c2ad72" stroke-width="0.5"/>
<text x="207.30" y="307.47" font-size="3.9" fill="#000" font-weight="700" textLength="13.70" lengthAdjust="spacingAndGlyphs">: Screen</text>
<rect x="214.10" y="337.70" width="31.80" height="13.00" fill="#cfc8b4" opacity="0.75"/>
<rect x="213.20" y="336.80" width="31.80" height="13.00" fill="url(#gw)" stroke="#c2ad72" stroke-width="0.5"/>
<text x="216.00" y="343.67" font-size="3.9" fill="#000" font-weight="700" textLength="26.70" lengthAdjust="spacingAndGlyphs">: Control Panel</text>
<rect x="71.40" y="277.70" width="47.80" height="10.50" fill="#cfc8b4" opacity="0.75"/>
<rect x="70.50" y="276.80" width="47.80" height="10.50" fill="url(#gw)" stroke="#c2ad72" stroke-width="0.5"/>
<text x="73.60" y="281.26" font-size="3.9" fill="#000" font-weight="700" textLength="42.10" lengthAdjust="spacingAndGlyphs">: Cables and Connectors</text>
<rect x="28.50" y="291.00" width="32.20" height="49.10" fill="#cfc8b4" opacity="0.75"/>
<rect x="27.60" y="290.10" width="32.20" height="49.10" fill="url(#gl)" stroke="#c2ad72" stroke-width="0.5"/>
<polyline points="27.60,295.20 59.80,295.20" fill="none" stroke="#c2ad72" stroke-width="0.4" />
<text x="36.40" y="294.17" font-size="3.9" fill="#000" font-weight="700" textLength="15.70" lengthAdjust="spacingAndGlyphs">: Joint [5]</text>
<polyline points="41.30,320.40 41.30,336.40" fill="none" stroke="#d7d7d0" stroke-width="0.5" />
<rect x="35.10" y="308.60" width="20.50" height="10.70" fill="#cfc8b4" opacity="0.75"/>
<rect x="34.20" y="307.70" width="20.50" height="10.70" fill="url(#gw)" stroke="#c2ad72" stroke-width="0.5"/>
<text x="37.60" y="312.26" font-size="3.9" fill="#000" font-weight="700" textLength="13.70" lengthAdjust="spacingAndGlyphs">: Gripper</text>
<rect x="97.60" y="319.50" width="16.30" height="11.40" fill="#cfc8b4" opacity="0.75"/>
<rect x="96.70" y="318.60" width="16.30" height="11.40" fill="url(#gw)" stroke="#c2ad72" stroke-width="0.5"/>
<text x="100.20" y="325.97" font-size="3.9" fill="#000" font-weight="700" textLength="10.00" lengthAdjust="spacingAndGlyphs">: Base</text>
<rect x="7.00" y="266.70" width="4.80" height="5.30" fill="#5f9fdc" stroke="#4a86c2" stroke-width="0.5"/>
<rect x="145.50" y="267.40" width="5.50" height="5.50" fill="#5f9fdc" stroke="#4a86c2" stroke-width="0.5"/>
<rect x="187.20" y="270.00" width="5.20" height="5.20" fill="#d4e9f6" stroke="#79aacb" stroke-width="0.5"/>
<rect x="82.90" y="285.10" width="5.10" height="4.60" fill="#80dc3c" stroke="#68c030" stroke-width="0.5"/>
<rect x="56.10" y="297.10" width="5.10" height="5.10" fill="#80dc3c" stroke="#68c030" stroke-width="0.5"/>
<rect x="132.40" y="298.00" width="5.10" height="4.80" fill="#80dc3c" stroke="#68c030" stroke-width="0.5"/>
<rect x="102.50" y="316.40" width="5.10" height="4.90" fill="#80dc3c" stroke="#68c030" stroke-width="0.5"/>
<rect x="39.00" y="316.00" width="4.60" height="4.40" fill="#f7f8f2" stroke="#9a9a9a" stroke-width="0.5"/>
<rect x="39.00" y="336.50" width="4.60" height="4.70" fill="#f7f8f2" stroke="#9a9a9a" stroke-width="0.5"/>
<rect x="7.00" y="345.00" width="5.00" height="4.80" fill="#f7f8f2" stroke="#9a9a9a" stroke-width="0.5"/>
<rect x="7.00" y="360.30" width="5.20" height="5.10" fill="#cde044" stroke="#a3b630" stroke-width="0.5"/>
<rect x="138.70" y="360.30" width="4.60" height="4.60" fill="#cde044" stroke="#a3b630" stroke-width="0.5"/>
<rect x="156.00" y="304.20" width="5.00" height="5.20" fill="#e9a11f" stroke="#b57a12" stroke-width="0.5"/>
<rect x="156.00" y="336.10" width="5.00" height="4.70" fill="#c9a430" stroke="#9a7c1c" stroke-width="0.5"/>
<rect x="174.60" y="344.20" width="5.10" height="5.30" fill="#d4e9f6" stroke="#79aacb" stroke-width="0.5"/>
<rect x="174.60" y="354.00" width="5.10" height="5.20" fill="#c9a430" stroke="#9a7c1c" stroke-width="0.5"/>
<rect x="174.60" y="364.40" width="5.10" height="5.30" fill="#c9a430" stroke="#9a7c1c" stroke-width="0.5"/>
<rect x="207.40" y="298.90" width="4.90" height="4.50" fill="#d4e9f6" stroke="#79aacb" stroke-width="0.5"/>
<rect x="207.40" y="311.90" width="4.90" height="4.80" fill="#e9a11f" stroke="#b57a12" stroke-width="0.5"/>
<rect x="237.00" y="334.00" width="5.10" height="5.20" fill="#d4e9f6" stroke="#79aacb" stroke-width="0.5"/>
<rect x="226.60" y="347.30" width="5.20" height="5.10" fill="#e9a11f" stroke="#b57a12" stroke-width="0.5"/>
<text x="14.60" y="267.96" font-size="3.6" fill="#222" textLength="28.20" lengthAdjust="spacingAndGlyphs">: External Pow er IF</text>
<text x="111.00" y="268.26" font-size="3.6" fill="#222" textLength="32.90" lengthAdjust="spacingAndGlyphs">p1 : External Pow er IF</text>
<text x="88.30" y="294.06" font-size="3.6" fill="#222" textLength="15.60" lengthAdjust="spacingAndGlyphs">: Assembly</text>
<text x="64.00" y="298.36" font-size="3.6" fill="#222" textLength="15.70" lengthAdjust="spacingAndGlyphs">: Assembly</text>
<text x="115.30" y="299.76" font-size="3.6" fill="#222" textLength="15.70" lengthAdjust="spacingAndGlyphs">: Assembly</text>
<text x="108.20" y="315.46" font-size="3.6" fill="#222" textLength="15.70" lengthAdjust="spacingAndGlyphs">: Assembly</text>
<text x="42.00" y="324.86" font-size="3.6" fill="#222" textLength="30.60" lengthAdjust="spacingAndGlyphs">Grip : Mechanical IF</text>
<text x="45.60" y="343.86" font-size="3.6" fill="#222" textLength="29.90" lengthAdjust="spacingAndGlyphs">Grip : Mechanical IF</text>
<text x="12.80" y="345.86" font-size="3.6" fill="#222" textLength="29.90" lengthAdjust="spacingAndGlyphs">Grip : Mechanical IF</text>
<text x="14.80" y="361.36" font-size="3.6" fill="#222" textLength="27.20" lengthAdjust="spacingAndGlyphs">: Communication IF</text>
<text x="110.50" y="361.36" font-size="3.6" fill="#222" textLength="26.20" lengthAdjust="spacingAndGlyphs">: Communication IF</text>
<text x="193.70" y="271.56" font-size="3.6" fill="#222" textLength="27.80" lengthAdjust="spacingAndGlyphs">: Internal Pow er IF</text>
<text x="159.20" y="313.16" font-size="3.6" fill="#222" textLength="22.60" lengthAdjust="spacingAndGlyphs">p1 : ~Control IF</text>
<text x="162.00" y="335.26" font-size="3.6" fill="#222" textLength="14.20" lengthAdjust="spacingAndGlyphs">: Control IF</text>
<text x="181.60" y="345.86" font-size="3.6" fill="#222" textLength="29.90" lengthAdjust="spacingAndGlyphs">: ~Internal Pow er IF</text>
<text x="180.70" y="355.26" font-size="3.6" fill="#222" textLength="23.20" lengthAdjust="spacingAndGlyphs">Data : Control IF</text>
<text x="181.80" y="365.56" font-size="3.6" fill="#222" textLength="16.70" lengthAdjust="spacingAndGlyphs">: ~Control IF</text>
<text x="214.00" y="297.26" font-size="3.6" fill="#222" textLength="27.20" lengthAdjust="spacingAndGlyphs">: ~Internal Pow er IF</text>
<text x="210.40" y="320.66" font-size="3.6" fill="#222" textLength="25.30" lengthAdjust="spacingAndGlyphs">Data : ~Control IF</text>
<text x="243.90" y="332.86" font-size="3.6" fill="#222" textLength="27.50" lengthAdjust="spacingAndGlyphs">: ~Internal Pow er IF</text>
<text x="233.40" y="356.66" font-size="3.6" fill="#222" textLength="14.10" lengthAdjust="spacingAndGlyphs">: Control IF</text>
<rect x="259.50" y="276.10" width="50.20" height="41.80" fill="#fff" stroke="#9a9a9a" stroke-width="0.5"/>
<text x="261.90" y="281.17" font-size="3.9" fill="#000" font-weight="700" textLength="45.40" lengthAdjust="spacingAndGlyphs">Connectors by Port Types</text>
<polyline points="261.90,285.50 265.70,285.50" fill="none" stroke="#d6e78f" stroke-width="0.6" />
<text x="268.00" y="286.56" font-size="3.6" fill="#222" textLength="25.50" lengthAdjust="spacingAndGlyphs">Communication IF</text>
<polyline points="261.90,291.20 265.70,291.20" fill="none" stroke="#92e25e" stroke-width="0.6" />
<text x="268.00" y="292.26" font-size="3.6" fill="#222" textLength="14.80" lengthAdjust="spacingAndGlyphs">Assembly</text>
<polyline points="261.90,296.90 265.70,296.90" fill="none" stroke="#f2ca88" stroke-width="0.6" />
<text x="268.00" y="297.96" font-size="3.6" fill="#222" textLength="13.90" lengthAdjust="spacingAndGlyphs">Control IF</text>
<polyline points="261.90,302.70 265.70,302.70" fill="none" stroke="#c3dbf2" stroke-width="0.6" />
<text x="268.00" y="303.76" font-size="3.6" fill="#222" textLength="26.90" lengthAdjust="spacingAndGlyphs">External Pow er IF</text>
<polyline points="261.90,308.40 265.70,308.40" fill="none" stroke="#c6deef" stroke-width="0.6" />
<text x="268.00" y="309.46" font-size="3.6" fill="#222" textLength="25.30" lengthAdjust="spacingAndGlyphs">Internal Pow er IF</text>
<polyline points="261.90,314.10 265.70,314.10" fill="none" stroke="#dcdcdc" stroke-width="0.6" />
<text x="268.00" y="315.16" font-size="3.6" fill="#222" textLength="20.10" lengthAdjust="spacingAndGlyphs">Mechanical IF</text>
<rect x="268.60" y="338.10" width="37.70" height="42.90" fill="#fff" stroke="#9a9a9a" stroke-width="0.5"/>
<text x="277.70" y="343.47" font-size="3.9" fill="#000" font-weight="700" textLength="19.00" lengthAdjust="spacingAndGlyphs">Port Types</text>
<rect x="270.80" y="345.50" width="4.30" height="4.40" fill="#80dc3c" stroke="#68c030" stroke-width="0.5"/>
<text x="276.80" y="348.96" font-size="3.6" fill="#222" textLength="14.70" lengthAdjust="spacingAndGlyphs">Assembly</text>
<rect x="270.80" y="351.30" width="4.30" height="4.40" fill="#cde044" stroke="#a3b630" stroke-width="0.5"/>
<text x="276.80" y="354.76" font-size="3.6" fill="#222" textLength="25.90" lengthAdjust="spacingAndGlyphs">Communication IF</text>
<rect x="270.80" y="357.00" width="4.30" height="4.40" fill="#e9a11f" stroke="#b57a12" stroke-width="0.5"/>
<text x="276.80" y="360.46" font-size="3.6" fill="#222" textLength="13.90" lengthAdjust="spacingAndGlyphs">Control IF</text>
<rect x="270.80" y="362.70" width="4.30" height="4.40" fill="#5f9fdc" stroke="#4a86c2" stroke-width="0.5"/>
<text x="276.80" y="366.16" font-size="3.6" fill="#222" textLength="26.90" lengthAdjust="spacingAndGlyphs">External Pow er IF</text>
<rect x="270.80" y="368.40" width="4.30" height="4.40" fill="#d4e9f6" stroke="#79aacb" stroke-width="0.5"/>
<text x="276.80" y="371.86" font-size="3.6" fill="#222" textLength="25.90" lengthAdjust="spacingAndGlyphs">Internal Pow er IF</text>
<rect x="270.80" y="374.10" width="4.30" height="4.40" fill="#f7f8f2" stroke="#9a9a9a" stroke-width="0.5"/>
<text x="276.80" y="377.56" font-size="3.6" fill="#222" textLength="20.40" lengthAdjust="spacingAndGlyphs">Mechanical IF</text>
</g>
<g id="diagram-right">
<rect x="620.20" y="145.40" width="339.80" height="258.60" fill="#ffffff"/>
<polyline points="620.60,392.00 620.60,145.80 948.50,145.80" fill="none" stroke="#d2d2d2" stroke-width="0.7" />
<g opacity="0.3" mask="url(#wfade)" filter="url(#wblur)"><g transform="translate(657.8 183.6) scale(3.4 3.32) translate(-717 -48)"><use href="#armw"/></g></g>
<rect x="623.80" y="147.40" width="320.90" height="240.20" fill="none" stroke="#bcbcbc" stroke-width="0.6"/>
<polyline points="623.80,152.40 703.60,152.40 705.30,150.70 705.30,147.40" fill="none" stroke="#8a8a8a" stroke-width="0.5" />
<text x="626.10" y="150.95" font-size="3.0" fill="#111" font-weight="700" textLength="4.40" lengthAdjust="spacingAndGlyphs">ibd</text>
<text x="632.40" y="150.95" font-size="3.0" fill="#000" textLength="68.00" lengthAdjust="spacingAndGlyphs">[Block] Robotic Arm [ Solution System Architecture ]</text>
<rect x="650.90" y="174.10" width="147.90" height="190.50" fill="none" stroke="#c9cc97" stroke-width="0.5"/>
<polyline points="650.90,179.40 798.80,179.40" fill="none" stroke="#c9cc97" stroke-width="0.45" />
<text x="714.00" y="177.91" font-size="3.45" fill="#000" font-weight="700" textLength="24.00" lengthAdjust="spacingAndGlyphs">Mechanical Parts</text>
<rect x="801.60" y="302.40" width="125.20" height="72.20" fill="#ffffff" stroke="#c9cc97" stroke-width="0.5" fill-opacity="0.72"/>
<polyline points="801.60,307.40 926.80,307.40" fill="none" stroke="#c9cc97" stroke-width="0.45" />
<text x="854.80" y="306.21" font-size="3.45" fill="#000" font-weight="700" textLength="21.30" lengthAdjust="spacingAndGlyphs">Electrical Parts</text>
<polyline points="688.50,204.00 688.50,190.20 868.60,190.20 868.60,340.80" fill="none" stroke="#93cf97" stroke-width="0.75" />
<polyline points="781.70,212.20 856.30,212.20 856.30,340.80" fill="none" stroke="#93cf97" stroke-width="0.75" />
<polyline points="791.60,253.40 845.20,253.40 845.20,340.80" fill="none" stroke="#93cf97" stroke-width="0.75" />
<polyline points="791.60,297.20 833.80,297.20 833.80,340.80" fill="none" stroke="#93cf97" stroke-width="0.75" />
<polyline points="791.60,338.00 821.70,338.00 821.70,340.80" fill="none" stroke="#93cf97" stroke-width="0.75" />
<polyline points="626.60,178.60 631.00,178.60 631.00,200.20 657.20,200.20" fill="none" stroke="#bdbdbd" stroke-width="0.6" />
<polyline points="699.80,210.50 723.20,210.50" fill="none" stroke="#e2cdc8" stroke-width="0.6" />
<polyline points="749.10,223.90 749.10,236.30" fill="none" stroke="#e2cdc8" stroke-width="0.6" />
<polyline points="748.40,264.20 748.40,279.90" fill="none" stroke="#e2cdc8" stroke-width="0.6" />
<polyline points="750.30,309.10 750.30,322.00" fill="none" stroke="#e2cdc8" stroke-width="0.6" />
<polyline points="750.30,351.20 750.30,385.50" fill="none" stroke="#5db9e6" stroke-width="0.8" />
<polyline points="942.20,312.30 909.20,312.30 909.20,340.80" fill="none" stroke="#c4e2c4" stroke-width="0.6" />
<polyline points="871.60,371.70 871.60,385.50" fill="none" stroke="#f2a21c" stroke-width="0.8" />
<rect x="660.10" y="197.30" width="39.50" height="23.90" fill="#cfc8b4" opacity="0.75"/>
<rect x="659.20" y="196.40" width="39.50" height="23.90" fill="url(#gy)" stroke="#cdb873" stroke-width="0.5"/>
<rect x="659.45" y="196.65" width="39.00" height="4.75" fill="#f7e098" opacity="0.5"/>
<text x="669.00" y="200.11" font-size="3.45" fill="#000" font-weight="700" textLength="19.00" lengthAdjust="spacingAndGlyphs">grip : Gripper</text>
<rect x="665.20" y="206.10" width="30.20" height="11.50" fill="#cfc6a6" opacity="0.7"/>
<rect x="664.40" y="205.30" width="30.20" height="11.50" fill="url(#gw)" stroke="#b9b08c" stroke-width="0.45" stroke-dasharray="2.2 1.4"/>
<text x="671.40" y="212.51" font-size="3.45" fill="#000" font-weight="700" textLength="18.60" lengthAdjust="spacingAndGlyphs">: Servo mottor</text>
<rect x="726.10" y="197.20" width="60.90" height="25.90" fill="#cfc8b4" opacity="0.75"/>
<rect x="725.20" y="196.30" width="60.90" height="25.90" fill="url(#gy)" stroke="#cdb873" stroke-width="0.5"/>
<rect x="725.45" y="196.55" width="60.40" height="4.75" fill="#f7e098" opacity="0.5"/>
<text x="753.20" y="200.01" font-size="3.45" fill="#000" font-weight="700" textLength="6.90" lengthAdjust="spacingAndGlyphs">Wrist</text>
<rect x="731.70" y="206.10" width="49.50" height="10.80" fill="#cfc6a6" opacity="0.7"/>
<rect x="730.90" y="205.30" width="49.50" height="10.80" fill="url(#gw)" stroke="#b9b08c" stroke-width="0.45" stroke-dasharray="2.2 1.4"/>
<text x="746.20" y="210.11" font-size="3.45" fill="#000" font-weight="700" textLength="19.00" lengthAdjust="spacingAndGlyphs">: Servo mottor</text>
<rect x="736.30" y="239.70" width="58.10" height="24.70" fill="#cfc8b4" opacity="0.75"/>
<rect x="735.40" y="238.80" width="58.10" height="24.70" fill="url(#gy)" stroke="#cdb873" stroke-width="0.5"/>
<rect x="735.65" y="239.05" width="57.60" height="4.75" fill="#f7e098" opacity="0.5"/>
<text x="761.90" y="243.81" font-size="3.45" fill="#000" font-weight="700" textLength="8.10" lengthAdjust="spacingAndGlyphs">Elbow</text>
<rect x="741.60" y="249.00" width="50.80" height="11.10" fill="#cfc6a6" opacity="0.7"/>
<rect x="740.80" y="248.20" width="50.80" height="11.10" fill="url(#gw)" stroke="#b9b08c" stroke-width="0.45" stroke-dasharray="2.2 1.4"/>
<text x="756.90" y="251.91" font-size="3.45" fill="#000" font-weight="700" textLength="18.60" lengthAdjust="spacingAndGlyphs">: Servo mottor</text>
<rect x="736.30" y="283.30" width="58.10" height="24.70" fill="#cfc8b4" opacity="0.75"/>
<rect x="735.40" y="282.40" width="58.10" height="24.70" fill="url(#gy)" stroke="#cdb873" stroke-width="0.5"/>
<rect x="735.65" y="282.65" width="57.60" height="4.75" fill="#f7e098" opacity="0.5"/>
<text x="760.10" y="287.91" font-size="3.45" fill="#000" font-weight="700" textLength="11.70" lengthAdjust="spacingAndGlyphs">Shoulder</text>
<rect x="741.60" y="293.10" width="50.80" height="11.10" fill="#cfc6a6" opacity="0.7"/>
<rect x="740.80" y="292.30" width="50.80" height="11.10" fill="url(#gw)" stroke="#b9b08c" stroke-width="0.45" stroke-dasharray="2.2 1.4"/>
<text x="756.90" y="296.01" font-size="3.45" fill="#000" font-weight="700" textLength="18.60" lengthAdjust="spacingAndGlyphs">: Servo mottor</text>
<rect x="736.30" y="325.30" width="58.10" height="24.80" fill="#cfc8b4" opacity="0.75"/>
<rect x="735.40" y="324.40" width="58.10" height="24.80" fill="url(#gy)" stroke="#cdb873" stroke-width="0.5"/>
<rect x="735.65" y="324.65" width="57.60" height="4.75" fill="#f7e098" opacity="0.5"/>
<text x="762.60" y="330.01" font-size="3.45" fill="#000" font-weight="700" textLength="6.70" lengthAdjust="spacingAndGlyphs">Base</text>
<rect x="741.60" y="335.10" width="50.80" height="11.20" fill="#cfc6a6" opacity="0.7"/>
<rect x="740.80" y="334.30" width="50.80" height="11.20" fill="url(#gw)" stroke="#b9b08c" stroke-width="0.45" stroke-dasharray="2.2 1.4"/>
<text x="756.90" y="338.61" font-size="3.45" fill="#000" font-weight="700" textLength="18.60" lengthAdjust="spacingAndGlyphs">: Servo mottor</text>
<rect x="808.70" y="344.10" width="109.20" height="26.60" fill="#cfc8b4" opacity="0.75"/>
<rect x="807.80" y="343.20" width="109.20" height="26.60" fill="url(#gy)" stroke="#cdb873" stroke-width="0.5"/>
<text x="846.40" y="348.41" font-size="3.45" fill="#000" font-weight="700" textLength="33.90" lengthAdjust="spacingAndGlyphs">Arduino UNO Controller</text>
<rect x="812.70" y="351.10" width="47.00" height="7.80" fill="#cfc8b4" opacity="0.75"/>
<rect x="811.80" y="350.20" width="47.00" height="7.80" fill="url(#gw)" stroke="#c6b580" stroke-width="0.5"/>
<text x="826.60" y="355.41" font-size="3.45" fill="#000" font-weight="700" textLength="19.80" lengthAdjust="spacingAndGlyphs">: OLED Screen</text>
<rect x="865.10" y="351.10" width="47.10" height="7.80" fill="#cfc8b4" opacity="0.75"/>
<rect x="864.20" y="350.20" width="47.10" height="7.80" fill="url(#gw)" stroke="#c6b580" stroke-width="0.5"/>
<text x="870.40" y="355.41" font-size="3.45" fill="#000" font-weight="700" textLength="36.40" lengthAdjust="spacingAndGlyphs">: Control potentiometer [5]</text>
<rect x="812.70" y="361.40" width="33.90" height="7.50" fill="#cfc8b4" opacity="0.75"/>
<rect x="811.80" y="360.50" width="33.90" height="7.50" fill="url(#gw)" stroke="#c6b580" stroke-width="0.5"/>
<text x="816.70" y="365.51" font-size="3.45" fill="#000" font-weight="700" textLength="25.30" lengthAdjust="spacingAndGlyphs">: Power Controller</text>
<rect x="876.80" y="319.40" width="45.30" height="7.50" fill="#cfc8b4" opacity="0.75"/>
<rect x="875.90" y="318.50" width="45.30" height="7.50" fill="url(#gy)" stroke="#c6b580" stroke-width="0.5"/>
<text x="881.60" y="323.51" font-size="3.45" fill="#000" font-weight="700" textLength="35.80" lengthAdjust="spacingAndGlyphs">: Cabbles and connectors</text>
<rect x="622.40" y="176.40" width="4.20" height="4.40" fill="#b4b4b4" stroke="#8a8a8a" stroke-width="0.5"/>
<rect x="657.10" y="197.90" width="4.50" height="4.50" fill="#b4b4b4" stroke="#8a8a8a" stroke-width="0.5"/>
<rect x="686.20" y="204.00" width="4.60" height="4.30" fill="#86d690" stroke="#5db46a" stroke-width="0.5"/>
<rect x="695.60" y="208.40" width="4.20" height="4.20" fill="#fdf3f1" stroke="#d6b2ac" stroke-width="0.5"/>
<rect x="723.20" y="208.40" width="4.50" height="4.20" fill="#fdf3f1" stroke="#d6b2ac" stroke-width="0.5"/>
<rect x="777.20" y="209.90" width="4.50" height="4.40" fill="#86d690" stroke="#5db46a" stroke-width="0.5"/>
<rect x="747.00" y="219.80" width="4.40" height="4.10" fill="#fdf3f1" stroke="#d6b2ac" stroke-width="0.5"/>
<rect x="746.80" y="236.30" width="4.40" height="4.00" fill="#fdf3f1" stroke="#d6b2ac" stroke-width="0.5"/>
<rect x="787.10" y="251.20" width="4.50" height="4.40" fill="#86d690" stroke="#5db46a" stroke-width="0.5"/>
<rect x="746.30" y="260.60" width="4.40" height="3.70" fill="#fdf3f1" stroke="#d6b2ac" stroke-width="0.5"/>
<rect x="745.90" y="280.00" width="4.40" height="4.10" fill="#fdf3f1" stroke="#d6b2ac" stroke-width="0.5"/>
<rect x="787.10" y="294.90" width="4.50" height="4.70" fill="#86d690" stroke="#5db46a" stroke-width="0.5"/>
<rect x="748.30" y="305.10" width="4.40" height="4.10" fill="#fdf3f1" stroke="#d6b2ac" stroke-width="0.5"/>
<rect x="747.70" y="322.00" width="4.40" height="4.20" fill="#fdf3f1" stroke="#d6b2ac" stroke-width="0.5"/>
<rect x="787.10" y="335.70" width="4.50" height="4.40" fill="#86d690" stroke="#5db46a" stroke-width="0.5"/>
<rect x="748.20" y="347.20" width="4.50" height="4.10" fill="#5cc1ea" stroke="#2f93c4" stroke-width="0.5"/>
<rect x="746.10" y="385.50" width="4.90" height="4.70" fill="#5cc1ea" stroke="#2f93c4" stroke-width="0.5"/>
<rect x="819.70" y="340.80" width="4.20" height="4.10" fill="#86d690" stroke="#5db46a" stroke-width="0.5"/>
<rect x="832.00" y="340.80" width="4.30" height="4.10" fill="#86d690" stroke="#5db46a" stroke-width="0.5"/>
<rect x="842.80" y="340.80" width="4.20" height="4.10" fill="#86d690" stroke="#5db46a" stroke-width="0.5"/>
<rect x="854.30" y="340.80" width="4.20" height="4.10" fill="#86d690" stroke="#5db46a" stroke-width="0.5"/>
<rect x="866.10" y="340.80" width="4.30" height="4.10" fill="#86d690" stroke="#5db46a" stroke-width="0.5"/>
<rect x="879.10" y="340.80" width="4.20" height="4.10" fill="#86d690" stroke="#5db46a" stroke-width="0.5"/>
<rect x="906.90" y="340.80" width="4.40" height="4.10" fill="#f2f9ee" stroke="#9cc89c" stroke-width="0.5"/>
<rect x="942.20" y="310.30" width="4.20" height="4.10" fill="#f2f9ee" stroke="#9cc89c" stroke-width="0.5"/>
<rect x="869.30" y="367.30" width="4.80" height="4.50" fill="#f2a21c" stroke="#c37c0c" stroke-width="0.5"/>
<rect x="868.90" y="385.50" width="5.40" height="4.70" fill="#f2a21c" stroke="#c37c0c" stroke-width="0.5"/>
<text x="627.90" y="177.64" font-size="3.25" fill="#1c1c1c" textLength="18.50" lengthAdjust="spacingAndGlyphs">p3 : Gripper IF</text>
<text x="636.80" y="198.54" font-size="3.25" fill="#1c1c1c" textLength="18.50" lengthAdjust="spacingAndGlyphs">p3 : Gripper IF</text>
<text x="690.60" y="198.54" font-size="3.25" fill="#1c1c1c" textLength="6.60" lengthAdjust="spacingAndGlyphs">yfufu</text>
<text x="690.30" y="202.74" font-size="3.25" fill="#1c1c1c" textLength="16.60" lengthAdjust="spacingAndGlyphs">p1 : ~Servo IF</text>
<text x="697.90" y="207.34" font-size="3.25" fill="#1c1c1c" textLength="21.70" lengthAdjust="spacingAndGlyphs">p1 : ~Assembly IF</text>
<text x="705.80" y="217.14" font-size="3.25" fill="#1c1c1c" textLength="18.80" lengthAdjust="spacingAndGlyphs">p4 : Assembly IF</text>
<text x="782.90" y="210.14" font-size="3.25" fill="#1c1c1c" textLength="16.80" lengthAdjust="spacingAndGlyphs">p1 : Servo IF</text>
<text x="750.70" y="227.64" font-size="3.25" fill="#1c1c1c" textLength="24.80" lengthAdjust="spacingAndGlyphs">p5 : ~Assembly IF</text>
<text x="750.70" y="234.94" font-size="3.25" fill="#1c1c1c" textLength="21.10" lengthAdjust="spacingAndGlyphs">p1 : Assembly IF</text>
<text x="792.80" y="251.74" font-size="3.25" fill="#1c1c1c" textLength="16.80" lengthAdjust="spacingAndGlyphs">p1 : Servo IF</text>
<text x="749.50" y="268.44" font-size="3.25" fill="#1c1c1c" textLength="22.30" lengthAdjust="spacingAndGlyphs">p2 : Assembly IF</text>
<text x="749.50" y="279.04" font-size="3.25" fill="#1c1c1c" textLength="22.30" lengthAdjust="spacingAndGlyphs">p2 : Assembly IF</text>
<text x="793.60" y="291.44" font-size="3.25" fill="#1c1c1c" textLength="6.60" lengthAdjust="spacingAndGlyphs">yfufu</text>
<text x="792.80" y="295.94" font-size="3.25" fill="#1c1c1c" textLength="16.80" lengthAdjust="spacingAndGlyphs">p1 : Servo IF</text>
<text x="752.00" y="312.84" font-size="3.25" fill="#1c1c1c" textLength="21.70" lengthAdjust="spacingAndGlyphs">p1 : Assembly IF</text>
<text x="752.00" y="321.34" font-size="3.25" fill="#1c1c1c" textLength="21.70" lengthAdjust="spacingAndGlyphs">p2 : Assembly IF</text>
<text x="793.60" y="331.84" font-size="3.25" fill="#1c1c1c" textLength="6.60" lengthAdjust="spacingAndGlyphs">yfufu</text>
<text x="792.80" y="336.74" font-size="3.25" fill="#1c1c1c" textLength="16.80" lengthAdjust="spacingAndGlyphs">p1 : Servo IF</text>
<text x="751.60" y="355.34" font-size="3.25" fill="#1c1c1c" textLength="23.90" lengthAdjust="spacingAndGlyphs">p1 : Suction IF [4]</text>
<text x="750.60" y="384.34" font-size="3.25" fill="#1c1c1c" textLength="22.80" lengthAdjust="spacingAndGlyphs">p4 : Suction IF [4]</text>
<text x="822.70" y="335.64" font-size="3.25" fill="#1c1c1c" textLength="18.00" lengthAdjust="spacingAndGlyphs">p1 : ~Servo IF</text>
<text x="835.80" y="338.94" font-size="3.25" fill="#1c1c1c" textLength="16.80" lengthAdjust="spacingAndGlyphs">p2 : ~Servo IF</text>
<text x="846.40" y="335.64" font-size="3.25" fill="#1c1c1c" textLength="17.80" lengthAdjust="spacingAndGlyphs">p3 : ~Servo IF</text>
<text x="858.00" y="338.94" font-size="3.25" fill="#1c1c1c" textLength="17.40" lengthAdjust="spacingAndGlyphs">p4 : ~Servo IF</text>
<text x="870.40" y="335.64" font-size="3.25" fill="#1c1c1c" textLength="16.80" lengthAdjust="spacingAndGlyphs">p5 : ~Servo IF</text>
<text x="882.80" y="338.94" font-size="3.25" fill="#1c1c1c" textLength="17.80" lengthAdjust="spacingAndGlyphs">p6 : ~Servo IF</text>
<text x="910.50" y="338.94" font-size="3.25" fill="#1c1c1c" textLength="24.30" lengthAdjust="spacingAndGlyphs">p11 : USB micro IF</text>
<text x="918.20" y="310.54" font-size="3.25" fill="#1c1c1c" textLength="22.80" lengthAdjust="spacingAndGlyphs">p7 : USB micro IF</text>
<text x="872.90" y="374.64" font-size="3.25" fill="#1c1c1c" textLength="27.20" lengthAdjust="spacingAndGlyphs">p7 : Power Source IF</text>
<text x="873.20" y="384.34" font-size="3.25" fill="#1c1c1c" textLength="27.70" lengthAdjust="spacingAndGlyphs">p2 : Power Source IF</text>
<rect x="811.80" y="149.40" width="32.60" height="38.10" fill="#fff" stroke="#9a9a9a" stroke-width="0.5"/>
<text x="820.20" y="153.21" font-size="3.45" fill="#000" font-weight="700" textLength="15.60" lengthAdjust="spacingAndGlyphs">Port Types</text>
<rect x="814.00" y="155.90" width="3.80" height="3.80" fill="#fdf3f1" stroke="#cf7a72" stroke-width="0.5"/>
<text x="819.30" y="158.94" font-size="3.25" fill="#1c1c1c" textLength="16.00" lengthAdjust="spacingAndGlyphs">Assembly IF</text>
<rect x="814.00" y="161.00" width="3.80" height="3.80" fill="#f2a21c" stroke="#c37c0c" stroke-width="0.5"/>
<text x="819.30" y="164.04" font-size="3.25" fill="#1c1c1c" textLength="21.40" lengthAdjust="spacingAndGlyphs">Battery Power IF</text>
<rect x="814.00" y="166.10" width="3.80" height="3.80" fill="#b4b4b4" stroke="#8a8a8a" stroke-width="0.5"/>
<text x="819.30" y="169.14" font-size="3.25" fill="#1c1c1c" textLength="12.80" lengthAdjust="spacingAndGlyphs">Gripper IF</text>
<rect x="814.00" y="171.10" width="3.80" height="3.80" fill="#76c47c" stroke="#5db46a" stroke-width="0.5"/>
<text x="819.30" y="174.14" font-size="3.25" fill="#1c1c1c" textLength="10.80" lengthAdjust="spacingAndGlyphs">Servo IF</text>
<rect x="814.00" y="176.20" width="3.80" height="3.80" fill="#3f9fe0" stroke="#2a78b4" stroke-width="0.5"/>
<text x="819.30" y="179.24" font-size="3.25" fill="#1c1c1c" textLength="12.80" lengthAdjust="spacingAndGlyphs">Suction IF</text>
<rect x="814.00" y="181.40" width="3.80" height="3.80" fill="#f4faf2" stroke="#69ad6c" stroke-width="0.5"/>
<text x="819.30" y="184.44" font-size="3.25" fill="#1c1c1c" textLength="17.20" lengthAdjust="spacingAndGlyphs">USB micro IF</text>
<rect x="874.10" y="191.50" width="45.30" height="38.80" fill="#fff" stroke="#9a9a9a" stroke-width="0.5"/>
<text x="877.80" y="195.71" font-size="3.45" fill="#000" font-weight="700" textLength="37.70" lengthAdjust="spacingAndGlyphs">Connectors by Port Types</text>
<polyline points="876.10,200.10 879.70,200.10" fill="none" stroke="#f2d6d2" stroke-width="0.6" />
<text x="881.70" y="201.04" font-size="3.25" fill="#1c1c1c" textLength="15.90" lengthAdjust="spacingAndGlyphs">Assembly IF</text>
<polyline points="876.10,205.30 879.70,205.30" fill="none" stroke="#f0b24a" stroke-width="0.6" />
<text x="881.70" y="206.24" font-size="3.25" fill="#1c1c1c" textLength="21.60" lengthAdjust="spacingAndGlyphs">Battery Power IF</text>
<polyline points="876.10,210.50 879.70,210.50" fill="none" stroke="#cfcfcf" stroke-width="0.6" />
<text x="881.70" y="211.44" font-size="3.25" fill="#1c1c1c" textLength="13.00" lengthAdjust="spacingAndGlyphs">Gripper IF</text>
<polyline points="876.10,215.70 879.70,215.70" fill="none" stroke="#b9ddbb" stroke-width="0.6" />
<text x="881.70" y="216.64" font-size="3.25" fill="#1c1c1c" textLength="10.50" lengthAdjust="spacingAndGlyphs">Servo IF</text>
<polyline points="876.10,220.70 879.70,220.70" fill="none" stroke="#bfe0f2" stroke-width="0.6" />
<text x="881.70" y="221.64" font-size="3.25" fill="#1c1c1c" textLength="13.00" lengthAdjust="spacingAndGlyphs">Suction IF</text>
<polyline points="876.10,226.10 879.70,226.10" fill="none" stroke="#dcecdc" stroke-width="0.6" />
<text x="881.70" y="227.04" font-size="3.25" fill="#1c1c1c" textLength="17.20" lengthAdjust="spacingAndGlyphs">USB micro IF</text>
<rect x="866.70" y="147.90" width="76.80" height="29.30" fill="#ffffff" stroke="#9a9a9a" stroke-width="0.5"/>
<rect x="867.50" y="148.70" width="27.80" height="6.10" fill="#fff" stroke="#8c8c8c" stroke-width="0.45"/>
<rect x="896.50" y="148.70" width="46.20" height="6.10" fill="#fff" stroke="#8c8c8c" stroke-width="0.45"/>
<text x="868.70" y="153.11" font-size="3.6" fill="#222" textLength="23.80" lengthAdjust="spacingAndGlyphs">Diagram name</text>
<text x="897.70" y="153.11" font-size="3.6" fill="#222" textLength="43.70" lengthAdjust="spacingAndGlyphs">Solution System Architecture</text>
<rect x="867.50" y="155.70" width="27.80" height="6.10" fill="#fff" stroke="#8c8c8c" stroke-width="0.45"/>
<rect x="896.50" y="155.70" width="46.20" height="6.10" fill="#fff" stroke="#8c8c8c" stroke-width="0.45"/>
<text x="868.70" y="160.11" font-size="3.6" fill="#222" textLength="9.90" lengthAdjust="spacingAndGlyphs">Author</text>
<text x="897.70" y="160.11" font-size="3.6" fill="#222" textLength="9.10" lengthAdjust="spacingAndGlyphs">pcar13</text>
<rect x="867.50" y="162.80" width="27.80" height="6.30" fill="#fff" stroke="#8c8c8c" stroke-width="0.45"/>
<rect x="896.50" y="162.80" width="46.20" height="6.30" fill="#fff" stroke="#8c8c8c" stroke-width="0.45"/>
<text x="868.70" y="167.31" font-size="3.6" fill="#222" textLength="20.80" lengthAdjust="spacingAndGlyphs">Creation date</text>
<text x="897.70" y="167.31" font-size="3.6" fill="#222" textLength="24.20" lengthAdjust="spacingAndGlyphs">3/3/25, 2:32 PM</text>
<rect x="867.50" y="170.00" width="27.80" height="6.40" fill="#fff" stroke="#8c8c8c" stroke-width="0.45"/>
<rect x="896.50" y="170.00" width="46.20" height="6.40" fill="#fff" stroke="#8c8c8c" stroke-width="0.45"/>
<text x="868.70" y="174.56" font-size="3.6" fill="#222" textLength="25.20" lengthAdjust="spacingAndGlyphs">Modification date</text>
<text x="897.70" y="174.56" font-size="3.6" fill="#222" textLength="24.20" lengthAdjust="spacingAndGlyphs">3/4/25, 9:00 AM</text>
</g>
</svg>
</div>
</body>
</html>
